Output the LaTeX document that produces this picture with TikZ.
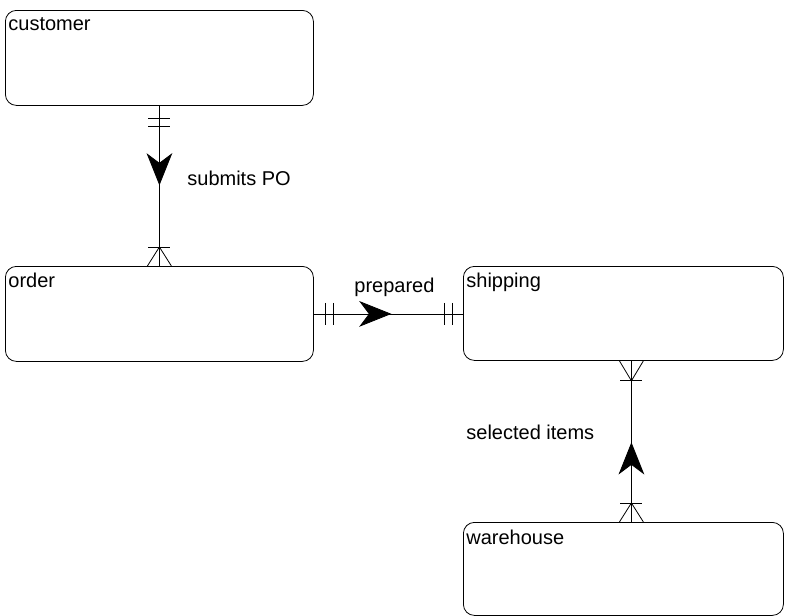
\documentclass[tikz,border=0pt]{standalone}
\usepackage{fontspec}
\setmainfont{Liberation Sans}
\usetikzlibrary{calc,decorations.markings}
\begin{document}
\begin{tikzpicture}[x=1pt,y=-1pt,line width=0.8pt,
  entity/.style={draw, rounded corners=11pt, anchor=north west, inner sep=0pt},
  etext/.style={anchor=base west, inner sep=0pt, font=\fontsize{20}{24}\selectfont},
  rtext/.style={anchor=base west, inner sep=0pt, font=\fontsize{20}{24}\selectfont},
  midarrow/.style={postaction={decorate, decoration={markings,
      mark=at position #1 with {\filldraw[line join=miter] (0,0) -- (-30,-12) -- (-21,0) -- (-30,12) -- cycle;}}}}]
\useasboundingbox (0,0) rectangle (785,616);

% entities
\node[entity, minimum width=308pt, minimum height=95pt] (customer) at (5,10) {};
\node[entity, minimum width=308pt, minimum height=95pt] (order) at (5,266) {};
\node[entity, minimum width=320pt, minimum height=94pt] (shipping) at (463,266) {};
\node[entity, minimum width=320pt, minimum height=93pt] (warehouse) at (463,522) {};

\node[etext] (tcustomer) at (8,30) {customer};
\node[etext] (torder) at (8,287) {order};
\node[etext] (tshipping) at (466,287) {shipping};
\node[etext] (twarehouse) at (466,544) {warehouse};

% connector customer -> order
\coordinate (c1a) at (customer.south);
\coordinate (c1b) at (order.north);
\draw[midarrow=0.49] (c1a) -- (c1b);
\draw ($(c1a)+(-11,13)$) -- ++(22,0);
\draw ($(c1a)+(-11,21)$) -- ++(22,0);
\draw ($(c1b)+(-11,-19)$) -- ++(22,0);
\draw ($(c1b)+(-12,0)$) -- ($(c1b)+(0,-19)$) -- ($(c1b)+(12,0)$);
\node[rtext] (lsubmits) at (187,185) {submits PO};

% connector order -> shipping
\coordinate (c2a) at (order.east);
\coordinate (c2b) at (order.east -| shipping.west);
\draw[midarrow=0.513] (c2a) -- (c2b);
\draw ($(c2a)+(12,-11)$) -- ++(0,22);
\draw ($(c2a)+(20,-11)$) -- ++(0,22);
\draw ($(c2b)+(-19,-11)$) -- ++(0,22);
\draw ($(c2b)+(-11,-11)$) -- ++(0,22);
\node[rtext] (lprepared) at (354,292) {prepared};

% connector warehouse -> shipping
\coordinate (c3a) at ($(warehouse.north)+(8,0)$);
\coordinate (c3b) at ($(shipping.south)+(8,0)$);
\draw[midarrow=0.488] (c3a) -- (c3b);
\draw ($(c3b)+(-11,20)$) -- ++(22,0);
\draw ($(c3b)+(-12,0)$) -- ($(c3b)+(0,20)$) -- ($(c3b)+(12,0)$);
\draw ($(c3a)+(-11,-19)$) -- ++(22,0);
\draw ($(c3a)+(-12,0)$) -- ($(c3a)+(0,-19)$) -- ($(c3a)+(12,0)$);
\node[rtext] (lselected) at (466,439) {selected items};
\end{tikzpicture}
\end{document}
